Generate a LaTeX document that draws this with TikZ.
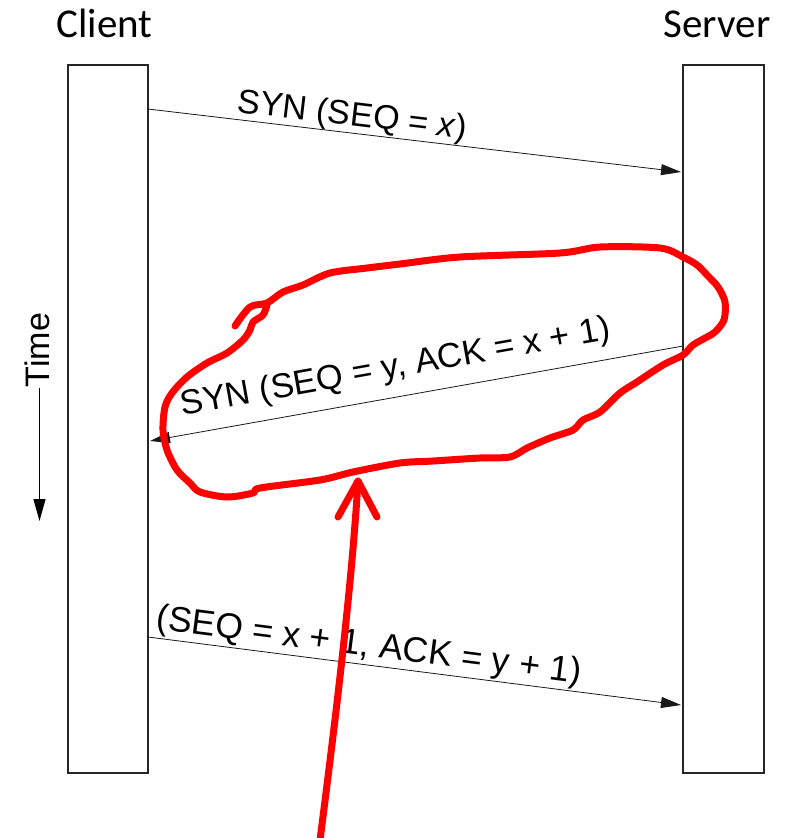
\documentclass[tikz,border=0pt]{standalone}
\usepackage{fontspec}
\setmainfont{Liberation Sans}
\newfontfamily\hostfont{Carlito}
\usetikzlibrary{arrows.meta}

\begin{document}
\begin{tikzpicture}[x=1pt, y=-1pt,
  lifeline/.style={draw=black!85, line width=1.2pt, minimum width=80pt, minimum height=708pt, inner sep=0pt},
  hostname/.style={font=\hostfont\fontsize{41}{48}\selectfont, anchor=base},
  msg/.style={draw=black!90, line width=0.8pt, -{Triangle[length=20pt, width=11pt]}},
  msglabel/.style={font=\fontsize{34}{40}\selectfont, anchor=south, inner xsep=0pt},
  scribble/.style={red, line width=7pt, line cap=round, line join=round}
]
  \useasboundingbox (0,0) rectangle (788,838);

  % hosts
  \node[lifeline] (client) at (108,419) {};
  \node[lifeline, minimum width=81pt] (server) at (723.5,419) {};
  \node[hostname] (clientname) at (104.5,37) {Client};
  \node[hostname] (servername) at (717,37) {Server};

  % time axis
  \node[font=\fontsize{34}{40}\selectfont, rotate=90, anchor=base, inner sep=0pt] (time) at (49,350) {Time};
  \coordinate (t0) at (39.5,388);
  \coordinate (t1) at (39.5,521);
  \draw[line width=1.2pt, -{Triangle[length=22pt, width=12pt]}] (t0) -- (t1);

  % three-way handshake
  \coordinate (c1) at (148,109);
  \coordinate (s1) at (681,172);
  \coordinate (s2) at (683,346);
  \coordinate (c2) at (150,441);
  \coordinate (c3) at (148,637);
  \coordinate (s3) at (681,705);
  \draw[msg] (c1) -- node[msglabel, rotate=-6.75, pos=0.38, inner ysep=0pt] (syn) {SYN (SEQ = \textit{x})} (s1);
  \draw[msg] (s2) -- node[msglabel, rotate=10.1, pos=0.53, inner ysep=12pt, font=\fontsize{34.5}{40}\selectfont] (synack) {SYN (SEQ = y, ACK = x + 1)} (c2);
  \draw[msg] (c3) -- node[msglabel, rotate=-7.3, pos=0.41, inner ysep=1pt, font=\fontsize{35.5}{40}\selectfont] (ack) {(SEQ = x + 1, ACK = y + 1)} (s3);

  % red marks on top
  \draw[scribble] plot[smooth, tension=0.5] coordinates {
    (235,326) (250,307) (267,303) (283,292) (303,285) (330,273) (367,268)
    (400,264) (460,257) (560,253) (600,247) (660,248) (683,257) (697,265)
    (707,275) (718,287) (725,302) (724,320) (715,332) (707,337) (693,345)
    (683,355) (663,365) (637,382) (620,393) (600,412) (583,420) (573,430)
    (550,438) (527,448) (510,457) (480,458) (433,461) (400,463) (353,472)
    (320,480) (260,488) (253,493) (227,497) (200,492) (190,483) (177,470)
    (167,450) (163,430) (165,407) (172,393) (187,377) (207,363) (227,353)
    (243,340) (250,330) (253,322) (263,315) (267,305)};
  \coordinate (tip) at (358,481);
  \coordinate (tail) at (320,840);
  \draw[scribble] (tail) .. controls (338,700) and (352,580) .. (tip);
  \draw[scribble] (338,517) -- (tip) -- (377,517);
\end{tikzpicture}
\end{document}
